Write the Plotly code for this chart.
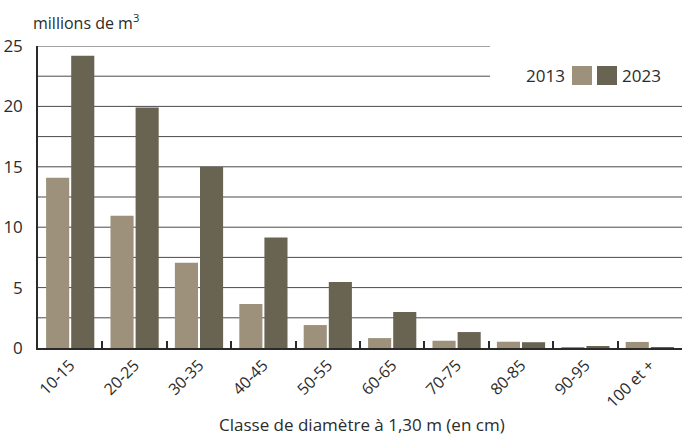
import plotly.graph_objects as go

categories = ["10-15", "20-25", "30-35", "40-45", "50-55", "60-65", "70-75", "80-85", "90-95", "100 et +"]
values_2013 = [14.1, 10.95, 7.05, 3.65, 1.9, 0.82, 0.6, 0.52, 0.05, 0.5]
values_2023 = [24.2, 19.9, 15.0, 9.15, 5.47, 2.98, 1.32, 0.48, 0.15, 0.05]
series_names = ["2013", "2023"]
colors = ["#9d917b", "#696452"]
y_ticks = [0, 5, 10, 15, 20, 25]
grid_values = [2.5, 5, 7.5, 10, 12.5, 15, 17.5, 20, 22.5, 25]

FONT = "Open Sans"
TXT = "#2b2b2b"

fig = go.Figure()
for name, vals, col in zip(series_names, [values_2013, values_2023], colors):
    fig.add_trace(go.Bar(x=categories, y=vals, name=name, marker_color=col,
                         marker_line_width=0, showlegend=False))

fig.update_layout(
    width=682, height=436,
    margin=dict(l=38, r=0, t=46, b=88),
    paper_bgcolor="white", plot_bgcolor="white",
    barmode="group", bargap=0.22, bargroupgap=0.08,
    font=dict(family=FONT, size=16, color=TXT),
)
fig.update_xaxes(
    automargin=False,
    showline=True, linecolor="#2a2a2a", linewidth=1.5,
    ticks="inside", tickson="boundaries", ticklen=7, tickcolor="#2a2a2a", tickwidth=1.5,
    tickangle=-45, tickfont=dict(size=16, color=TXT),
    showgrid=False,
)
fig.update_yaxes(
    automargin=False,
    range=[0, 25], tickvals=y_ticks, showline=True, linecolor="#2a2a2a", linewidth=1.5,
    showgrid=False, zeroline=False, ticks="", ticklabelstandoff=10,
    tickfont=dict(size=17, color=TXT),
)

# gridlines (shorter at top, leaving room for the legend)
legend_cut = (490 - 38) / 644
for g in grid_values:
    fig.add_shape(type="line", xref="paper", yref="y", x0=0, x1=legend_cut if g > 21 else 1,
                  y0=g, y1=g, line=dict(color="#4a4a4a", width=1), layer="below")

# custom legend
fig.add_annotation(text="2013", xref="paper", yref="paper", x=(567 - 38) / 644, y=(348 - 76) / 302,
                   xanchor="right", yanchor="middle", showarrow=False, font=dict(size=17, color=TXT))
fig.add_annotation(text="2023", xref="paper", yref="paper", x=(620 - 38) / 644, y=(348 - 76) / 302,
                   xanchor="left", yanchor="middle", showarrow=False, font=dict(size=17, color=TXT))
for x0, col in [(572, colors[0]), (597, colors[1])]:
    fig.add_shape(type="rect", xref="paper", yref="paper",
                  x0=(x0 - 38) / 644, x1=(x0 + 20 - 38) / 644,
                  y0=(348 - 85) / 302, y1=(348 - 66) / 302,
                  fillcolor=col, line_width=0, layer="above")

fig.add_annotation(text="millions de m<sup>3</sup>", xref="paper", yref="paper",
                   x=(31 - 38) / 644, y=(348 - 22) / 302, xanchor="left", yanchor="middle",
                   showarrow=False, font=dict(size=16, color=TXT))

fig.add_annotation(text="Classe de diamètre à 1,30 m (en cm)", xref="paper", yref="paper",
                   x=(362 - 38) / 644, y=(348 - 424) / 302, xanchor="center", yanchor="middle",
                   showarrow=False, font=dict(size=17, color=TXT))

fig.write_html("out.html", config={"displayModeBar": False},
               post_script="document.body.style.margin='0px';document.body.style.padding='0px';")
